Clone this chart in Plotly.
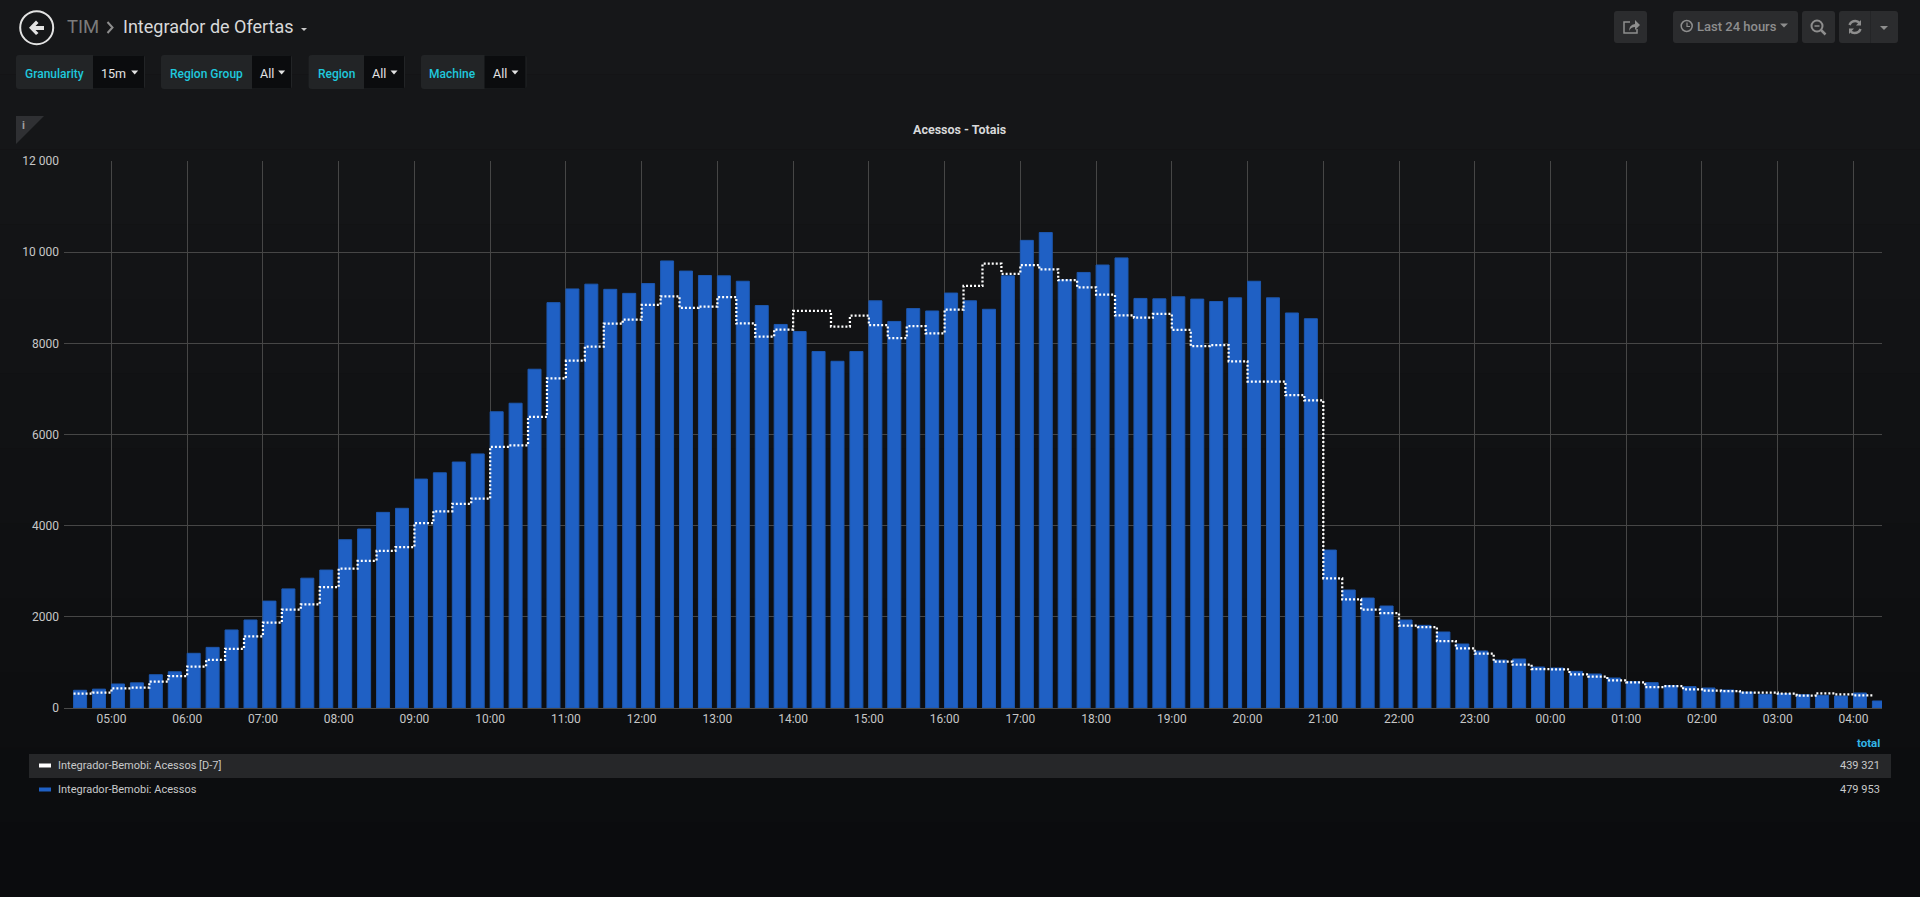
import plotly.graph_objects as go
import pandas as pd

W = 1920
H = 897

# values, one every 15 minutes from 04:30 to 04:15
acessos = [389, 414, 527, 552, 730, 795, 1200, 1330, 1712, 1931, 2345, 2613, 2848, 3026, 3692, 3927,
           4292, 4381, 5022, 5160, 5396, 5574, 6499, 6686, 7432, 8893, 9193, 9298, 9185, 9096, 9311,
           9807, 9585, 9488, 9481, 9362, 8829, 8414, 8258, 7821, 7606, 7821, 8933, 8480, 8762, 8710,
           9103, 8933, 8747, 9481, 10259, 10430, 9392, 9555, 9718, 9874, 8985, 8977, 9022, 8970,
           8918, 8999, 9362, 8999, 8666, 8540, 3465, 2588, 2412, 2237, 1930, 1813, 1667, 1404, 1250,
           1053, 1075, 899, 877, 804, 746, 658, 577, 556, 490, 468, 439, 395, 351, 300, 314, 292,
           278, 263, 329, 154]
acessos_d7 = [316, 340, 430, 446, 576, 698, 909, 1055, 1298, 1574, 1874, 2158, 2272, 2653, 3059, 3229,
              3448, 3529, 4057, 4316, 4479, 4592, 5728, 5761, 6385, 7229, 7619, 7927, 8430, 8519, 8844,
              9029, 8777, 8807, 9014, 8436, 8147, 8303, 8710, 8710, 8369, 8606, 8399, 8117, 8377, 8221,
              8740, 9259, 9748, 9526, 9718, 9622, 9385, 9229, 9066, 8614, 8562, 8644, 8295, 7939, 7961,
              7606, 7161, 7161, 6864, 6750, 2844, 2383, 2156, 2083, 1806, 1776, 1469, 1308, 1192, 1016,
              950, 855, 848, 738, 687, 607, 563, 460, 482, 409, 380, 373, 336, 336, 314, 270, 322, 300,
              278, 278]
times = pd.date_range('2019-01-14 04:30', periods=len(acessos), freq='15min')

y_ticks = [0, 2000, 4000, 6000, 8000, 10000, 12000]
y_labels = ['0', '2000', '4000', '6000', '8000', '10 000', '12 000']

legend_names = ['Integrador-Bemobi: Acessos [D-7]', 'Integrador-Bemobi: Acessos']
legend_totals = ['439 321', '479 953']

BLUE = '#1f60c4'
CYAN = '#1fc8dd'
GREY = '#8e8e8e'
BUTTON = '#2b2c2e'
PILL = '#222426'
WELL = '#0b0c0e'


def X(x):
    return x / W


def Y(y):
    return 1 - y / H


def pth(spec):
    # path given in page pixels, converted to paper coordinates
    out = []
    use_x = True
    for tok in spec.split():
        if tok.isalpha():
            out.append(tok)
            use_x = True
        else:
            out.append(str(X(float(tok))) if use_x else str(Y(float(tok))))
            use_x = not use_x
    return ' '.join(out)


shapes = []
annotations = []


def rect(x0, y0, x1, y1, color):
    shapes.append(dict(type='rect', xref='paper', yref='paper', x0=X(x0), x1=X(x1), y0=Y(y0), y1=Y(y1),
                       fillcolor=color, line=dict(width=0), layer='below'))


def rrect(x0, y0, x1, y1, color, r=3):
    spec = (f'M {x0 + r} {y0} L {x1 - r} {y0} Q {x1} {y0} {x1} {y0 + r} L {x1} {y1 - r} Q {x1} {y1} {x1 - r} {y1} '
            f'L {x0 + r} {y1} Q {x0} {y1} {x0} {y1 - r} L {x0} {y0 + r} Q {x0} {y0} {x0 + r} {y0} Z')
    shapes.append(dict(type='path', xref='paper', yref='paper', path=pth(spec), fillcolor=color,
                       line=dict(width=0), layer='below'))


def fill_path(spec, color):
    shapes.append(dict(type='path', xref='paper', yref='paper', path=pth(spec), fillcolor=color,
                       line=dict(width=0), layer='above'))


def line_path(spec, color, width=1.5):
    shapes.append(dict(type='path', xref='paper', yref='paper', path=pth(spec), line=dict(color=color, width=width),
                       layer='above'))


def circle(cx, cy, r, color, width=1.5):
    shapes.append(dict(type='circle', xref='paper', yref='paper', x0=X(cx - r), x1=X(cx + r), y0=Y(cy - r),
                       y1=Y(cy + r), line=dict(color=color, width=width), layer='above'))


def caret(cx, cy, color, w=8, h=4):
    fill_path(f'M {cx - w / 2} {cy - h / 2} L {cx + w / 2} {cy - h / 2} L {cx} {cy + h / 2} Z', color)


def text(x, y, s, size=13, color='#d8d9da', anchor='left', weight=400):
    annotations.append(dict(xref='paper', yref='paper', x=X(x), y=Y(y), text=s, showarrow=False, xanchor=anchor,
                            yanchor='middle', xshift=0, yshift=0, borderpad=0,
                            font=dict(family='Roboto', size=size, color=color, weight=weight)))


# page background gets darker towards the bottom
bands = 12
for i in range(bands):
    c = (22 - i, 23 - i, 25 - i)
    rect(0, H * i / bands, W, H * (i + 1) / bands, 'rgb(%d,%d,%d)' % c)

# title bar
circle(36.7, 27.7, 16.5, '#e3e3e3', 2)
fill_path('M 29 27.7 L 36 20.5 L 38.5 23 L 35.5 26 L 44 26 L 44 30 L 35.5 30 L 38.5 33 L 36 35 Z', '#e3e3e3')
text(65.5, 27, 'TIM', 18.5, '#7b7b7b')
line_path('M 107.5 22 L 112.5 27.5 L 107.5 33', GREY, 2)
text(121.5, 27, 'Integrador de Ofertas', 18, '#d8d9da')
caret(304, 29.5, '#c8c8c8', 6, 3)

# template variables: label, left, split, right, value x, caret x
pills = [('Granularity', 16, 93, 145, '15m', 100, 134.7),
         ('Region Group', 161, 252, 292, 'All', 258.6, 281.6),
         ('Region', 308.6, 364, 405, 'All', 371, 394),
         ('Machine', 421, 484.5, 526.5, 'All', 492, 515)]
for label, x0, xs, x1, value, vx, cx in pills:
    rrect(x0, 55, x1, 89, PILL)
    rect(xs, 55.5, x1 - 1, 88.5, WELL)
    text((x0 + xs) / 2, 73.5, label, 12, CYAN, 'center', 500)
    text(vx, 73, value, 12.5, '#e3e3e3')
    caret(cx, 72.5, '#e3e3e3', 7, 4)

# toolbar on the right
rrect(1614, 11, 1647, 43, BUTTON)
rrect(1673, 11, 1798, 43, BUTTON)
rrect(1802, 11, 1835, 43, BUTTON)
rrect(1839, 11, 1898, 43, BUTTON)
rect(1870, 11, 1871, 43, '#242527')
line_path('M 1637 29 L 1637 33 L 1624 33 L 1624 22 L 1630 22', GREY, 1.5)
fill_path('M 1629 31 Q 1629 25 1635 24 L 1635 20 L 1640 25 L 1635 30 L 1635 27 Q 1631 27 1629 31 Z', GREY)
circle(1686.7, 26, 5.5, GREY)
line_path('M 1687 22.5 L 1687 26.5 L 1690 26.5', GREY, 1.2)
text(1695.5, 26.5, 'Last 24 hours', 13, GREY, 'left', 500)
caret(1784, 25.5, GREY, 8, 4)
circle(1817, 26, 5.5, GREY, 2)
line_path('M 1821 30 L 1825.5 34.5', GREY, 2.5)
line_path('M 1814.5 26 L 1819.5 26', GREY, 1.5)
line_path('M 1849.5 25 Q 1851 21 1855.5 21 Q 1858 21 1859.5 23', GREY, 2.5)
fill_path('M 1861 20 L 1861 25.5 L 1856 25.5 Z', GREY)
line_path('M 1860.5 29 Q 1859 33 1854.5 33 Q 1852 33 1850.5 31', GREY, 2.5)
fill_path('M 1849 34 L 1849 28.5 L 1854 28.5 Z', GREY)
caret(1884, 28, GREY, 8, 4)

# panel corner and title
fill_path('M 16 116 L 44 116 L 16 144 Z', '#2f3033')
text(23, 125.5, 'i', 11, '#a0a0a0', 'center', 700)
text(959, 129, 'Acessos - Totais', 12.5, '#d8d9da', 'center', 700)

# legend table
text(1881, 743, 'total', 11.5, '#33b5e5', 'right', 700)
rect(29, 754, 1891, 778, '#262729')
swatches = ['#ffffff', BLUE]
for i in range(2):
    y = 765.5 + i * 24
    fill_path(f'M 39 {y - 2} L 51 {y - 2} L 51 {y + 2} L 39 {y + 2} Z', swatches[i])
    text(56.5, y - 0.5, legend_names[i], 11, '#c8c9ca')
    text(1881, y - 0.5, legend_totals[i], 11, '#c8c9ca', 'right')

fig = go.Figure()
fig.add_trace(go.Bar(x=times, y=acessos, name=legend_names[1], width=618000, offset=0,
                     marker=dict(color=BLUE, line=dict(color='#1d58b0', width=1))))
fig.add_trace(go.Scatter(x=times, y=acessos_d7, name=legend_names[0], mode='lines',
                         line=dict(color='#ffffff', width=2.25, dash='2px,2px', shape='hv')))

fig.update_layout(width=W, height=H, margin=dict(l=0, r=0, t=0, b=0, autoexpand=False), showlegend=False,
                  paper_bgcolor='#101113', plot_bgcolor='rgba(0,0,0,0)', shapes=shapes, annotations=annotations,
                  font=dict(family='Roboto', size=12, color='#c7c7c7'))
fig.update_xaxes(domain=[X(64), X(1882)], range=['2019-01-14 04:22:24', '2019-01-15 04:22:36'], type='date',
                 tick0='2019-01-14 05:00', dtick=3600000, tickformat='%H:%M', showgrid=True, gridcolor='#464646',
                 gridwidth=1, showline=True, linecolor='#4a4a4a', ticks='', ticklen=0, zeroline=False,
                 tickfont=dict(family='Roboto', size=12, color='#c7c7c7'))
fig.update_yaxes(domain=[Y(708), Y(161)], range=[0, 12000], tickvals=y_ticks, ticktext=y_labels, showgrid=True,
                 gridcolor='#464646', gridwidth=1, zeroline=False, showline=False, ticks='', ticklen=0,
                 ticklabelstandoff=4, tickfont=dict(family='Roboto', size=12, color='#c7c7c7'))

fig.write_html('out.html', config={'displayModeBar': False},
               post_script="document.body.style.margin='0';document.body.style.overflow='hidden';")
